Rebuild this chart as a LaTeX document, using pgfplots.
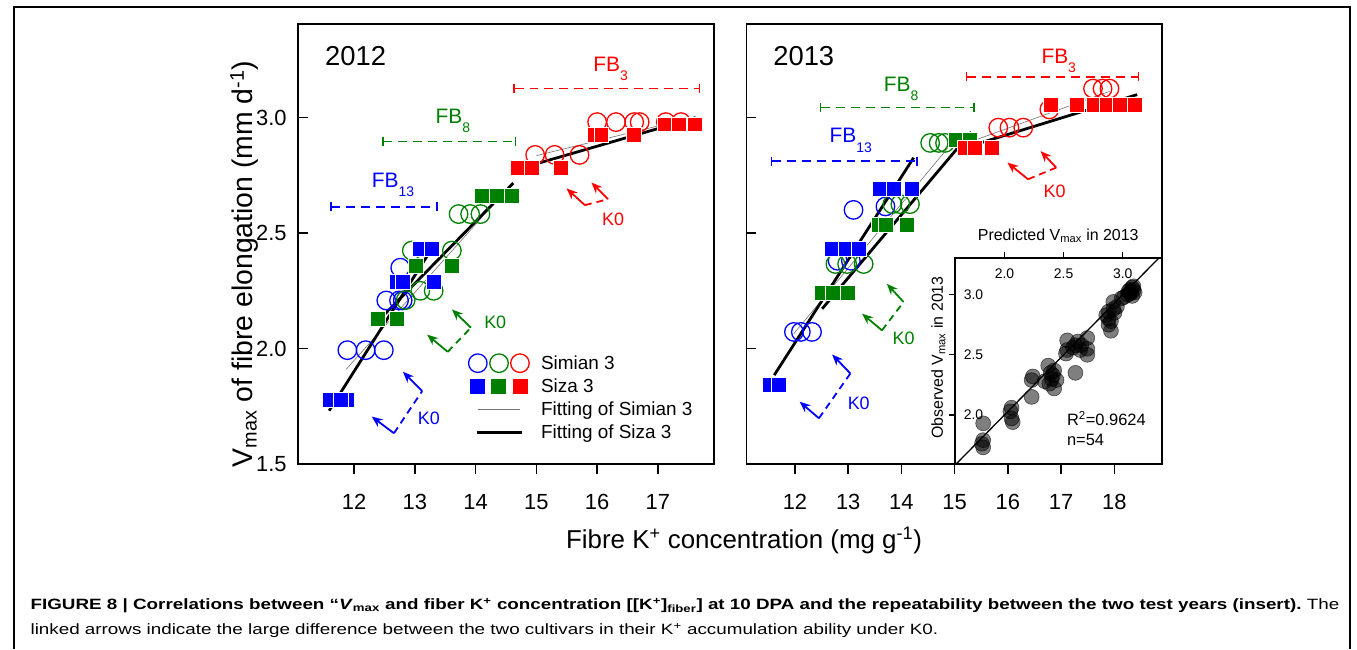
\documentclass[border=0pt]{standalone}
\usepackage{fontspec}
\setmainfont{Liberation Sans}
\usepackage{pgfplots}
\pgfplotsset{compat=1.18}
\usetikzlibrary{arrows.meta}
\definecolor{cblue}{RGB}{0,0,255}
\definecolor{cgreen}{RGB}{0,128,0}
\definecolor{cred}{RGB}{255,0,0}
\newcommand{\fs}[1]{\fontsize{#1}{#1}\selectfont}
\newcommand{\sub}[1]{\raisebox{-9.5pt}{\fs{14}#1}}
\newsavebox\capA
\newsavebox\capB
\newdimen\capw
\pgfplotsset{
  panel/.style={
    scale only axis, width=417pt, height=442pt, anchor=south west,
    ymin=1.5, ymax=3.405,
    ytick={1.5,2.0,2.5,3.0},
    axis line style={line width=1.8pt},
    tick style={black, line width=1.5pt},
    xtick align=outside, ytick align=inside,
    major tick length=10pt,
    tick pos=left,
    tick label style={font=\fs{22}},
    xticklabel style={anchor=north, inner sep=0pt, yshift=-20pt},
    yticklabel style={anchor=east, inner sep=0pt, xshift=-11.5pt},
    /pgf/number format/assume math mode=true,
  },
  sim/.style={only marks, mark=o, mark size=9.3pt, line width=1.3pt, color=#1, forget plot},
  siz/.style={only marks, mark=square*, mark size=7.5pt, color=#1, forget plot, mark options={fill=#1, draw=white, line width=0.8pt}},
  fitthin/.style={color=black!55, line width=0.6pt, forget plot},
  fitthick/.style={black, line width=2.8pt, forget plot},
}
\tikzset{
  k0arr/.style={line width=1.8pt, -{Stealth[length=11pt,width=9pt]}},
  k0dash/.style={line width=1.8pt, dash pattern=on 7pt off 5pt},
  fb/.style={line width=1.5pt, dash pattern=on 9pt off 6pt, {Bar[width=9pt,line width=1.5pt]}-{Bar[width=9pt,line width=1.5pt]}},
}
\begin{document}
\sbox\capA{\fs{15}\bfseries FIGURE 8 | Correlations between “\textit{V}\textsubscript{max} and fiber K\textsuperscript{+} concentration [[K\textsuperscript{+}]\textsubscript{fiber}] at 10 DPA and the repeatability between the two test years (insert).\mdseries\ The}
\sbox\capB{\fs{15}linked arrows indicate the large difference between the two cultivars in their K\textsuperscript{+} accumulation ability under K0.}
\begin{tikzpicture}
\fill[white] (0pt,0pt) rectangle (1357pt,652pt);

% ---------------- 2012 panel ----------------
\begin{axis}[panel, at={(294pt,186pt)},
  xmin=11.083, xmax=17.917, xtick={12,13,14,15,16,17},
  yticklabels={1.5,2.0,2.5,3.0},
  legend style={draw=none, fill=none, at={(0.4082,0.2541)}, anchor=north west,
    inner sep=0pt, outer sep=0pt, row sep=1.1pt, column sep=9.5pt,
    font=\fs{19}, nodes={inner sep=0pt}},
  legend cell align=left]
\addplot[sim=cblue] coordinates {(11.89,1.993) (12.19,1.993) (12.49,1.993) (12.53,2.208) (12.74,2.208) (12.80,2.208) (12.76,2.35)};
\addplot[sim=cgreen] coordinates {(12.85,2.21) (12.95,2.424) (13.61,2.424) (13.09,2.25) (13.31,2.25) (13.72,2.582) (13.91,2.582) (14.08,2.582)};
\addplot[sim=cred] coordinates {(14.98,2.838) (15.30,2.838) (15.71,2.838) (16.00,2.98) (16.31,2.98) (16.61,2.98) (16.70,2.98) (17.13,2.98) (17.38,2.98)};
\addplot[siz=cblue] coordinates {(11.60,1.777) (11.89,1.777) (11.79,1.777) (12.71,2.287) (12.80,2.287) (13.31,2.287) (13.09,2.431) (13.28,2.431)};
\addplot[siz=cgreen] coordinates {(12.39,2.129) (12.70,2.129) (13.01,2.359) (13.61,2.359) (14.10,2.66) (14.35,2.66) (14.59,2.66)};
\addplot[siz=cred] coordinates {(14.69,2.78) (14.92,2.78) (15.40,2.78) (15.97,2.924) (16.07,2.924) (16.60,2.924) (17.11,2.97) (17.35,2.97) (17.61,2.97)};
\addplot[fitthin] coordinates {(11.87,1.91) (14.45,2.67)};
\addplot[fitthin] coordinates {(15.00,2.835) (17.62,3.003)};
\addplot[fitthick] coordinates {(11.59,1.731) (13.31,2.445)};
\addplot[fitthick] coordinates {(12.39,2.118) (14.62,2.716)};
\addplot[fitthick] coordinates {(14.69,2.776) (17.62,2.999)};
\addlegendimage{legend image code/.code={
  \path[draw=none, fill=none] (0pt,-11pt) rectangle (64pt,11pt);
  \draw[cblue, line width=1.3pt, fill=none] (10pt,0pt) circle[radius=9.3pt];
  \draw[cgreen, line width=1.3pt, fill=none] (31.3pt,0pt) circle[radius=9.3pt];
  \draw[cred, line width=1.3pt, fill=none] (52.3pt,0pt) circle[radius=9.3pt];}}
\addlegendentry{Simian 3}
\addlegendimage{legend image code/.code={
  \path[draw=none, fill=none] (0pt,-11pt) rectangle (64pt,11pt);
  \fill[cblue, draw=none] (2.1pt,-7.5pt) rectangle (17.1pt,7.5pt);
  \fill[cgreen, draw=none] (23.5pt,-7.5pt) rectangle (38.5pt,7.5pt);
  \fill[cred, draw=none] (45.1pt,-7.5pt) rectangle (60.1pt,7.5pt);}}
\addlegendentry{Siza 3}
\addlegendimage{legend image code/.code={
  \path[draw=none, fill=none] (0pt,-11pt) rectangle (64pt,11pt);
  \draw[black!55, line width=0.6pt] (10pt,0pt) -- (52.3pt,0pt);}}
\addlegendentry{Fitting of Simian 3}
\addlegendimage{legend image code/.code={
  \path[draw=none, fill=none] (0pt,-11pt) rectangle (64pt,11pt);
  \draw[black, line width=2.8pt] (9pt,0pt) -- (54pt,0pt);}}
\addlegendentry{Fitting of Siza 3}
\end{axis}

% ---------------- 2013 panel ----------------
\begin{axis}[panel, at={(744pt,186pt)},
  xmin=11.089, xmax=18.893, xtick={12,13,14,15,16,17,18},
  yticklabels={}]
\addplot[sim=cblue] coordinates {(11.98,2.072) (12.11,2.072) (12.32,2.072) (12.80,2.38) (13.05,2.38) (13.10,2.60) (13.70,2.615)};
\addplot[sim=cgreen] coordinates {(12.76,2.366) (12.98,2.366) (13.29,2.366) (13.83,2.625) (13.98,2.625) (14.16,2.625) (14.54,2.89) (14.70,2.89) (14.82,2.89)};
\addplot[sim=cred] coordinates {(15.82,2.956) (16.03,2.956) (16.29,2.956) (16.78,3.035) (17.60,3.125) (17.78,3.125) (17.91,3.125)};
\addplot[siz=cblue] coordinates {(11.53,1.842) (11.70,1.842) (12.70,2.431) (12.95,2.431) (13.20,2.431) (13.60,2.69) (13.85,2.69) (14.20,2.69)};
\addplot[siz=cgreen] coordinates {(12.50,2.24) (12.72,2.24) (13.00,2.24) (13.58,2.535) (13.70,2.535) (14.10,2.535) (15.02,2.905) (15.29,2.905)};
\addplot[siz=cred] coordinates {(15.19,2.869) (15.38,2.869) (15.70,2.869) (16.80,3.056) (17.30,3.056) (17.61,3.056) (17.86,3.056) (18.11,3.056) (18.39,3.056)};
\addplot[fitthin] coordinates {(11.98,2.065) (14.90,2.876)};
\addplot[fitthin] coordinates {(15.07,2.876) (17.91,3.113)};
\addplot[fitthick] coordinates {(11.61,1.885) (14.23,2.826)};
\addplot[fitthick] coordinates {(12.51,2.172) (15.31,2.937)};
\addplot[fitthick] coordinates {(15.19,2.869) (18.43,3.099)};
\end{axis}

% ---------------- inset ----------------
\begin{axis}[at={(953pt,186pt)}, anchor=south west, scale only axis, width=208pt, height=207pt,
  xmin=1.579, xmax=3.33, ymin=1.591, ymax=3.306,
  axis background/.style={fill=white},
  axis line style={line width=1.8pt},
  tick style={black, line width=1.3pt},
  tick align=outside, major tick length=6pt,
  xtick pos=right, xticklabel pos=right, ytick pos=left,
  xtick={2.0,2.5,3.0}, ytick={2.0,2.5,3.0},
  xticklabels={2.0,2.5,3.0}, yticklabels={2.0,2.5,3.0},
  tick label style={font=\fs{14}},
  xticklabel style={anchor=north, inner sep=0pt, yshift=-17pt},
  yticklabel style={anchor=west, inner sep=0pt, xshift=15pt}]
\addplot[only marks, mark=*, mark size=7.5pt, mark options={fill=black, fill opacity=0.5, draw=black, draw opacity=0.6, line width=0.6pt}] coordinates {
(1.82,1.93) (1.82,1.79) (1.82,1.73) (1.81,1.76) (2.06,2.06) (2.06,1.97) (2.07,1.94) (2.05,2.03)
(2.24,2.32) (2.23,2.29) (2.23,2.15) (2.37,2.41) (2.38,2.26) (2.42,2.37) (2.41,2.33) (2.44,2.29)
(2.42,2.22) (2.34,2.28) (2.39,2.35) (2.40,2.30) (2.53,2.62) (2.53,2.54) (2.52,2.51) (2.60,2.58)
(2.62,2.61) (2.60,2.35) (2.70,2.64) (2.70,2.55) (2.70,2.50) (2.64,2.54) (2.65,2.58) (2.58,2.56)
(2.88,2.86) (2.88,2.80) (2.88,2.75) (2.90,2.70) (2.92,2.88) (2.92,2.94) (2.95,2.90) (2.86,2.83)
(2.90,2.78) (2.93,2.85) (3.01,2.98) (3.06,3.04) (3.08,3.06) (3.06,3.01) (3.09,3.04) (3.08,2.99)
(3.07,3.02) (3.10,3.02) (3.05,3.03) (3.09,3.07) (2.99,2.97) (3.04,3.00)};
\addplot[black, line width=1.3pt] coordinates {(1.5,1.5) (3.4,3.4)};
\end{axis}

% ---------------- annotations (pixel coordinates, y down) ----------------
\begin{scope}[x=1pt, y=1pt, shift={(0pt,652pt)}, yscale=-1]
\draw[line width=2pt] (8.3,652) -- (8.3,6.7) -- (1349.7,6.7) -- (1349.7,652);
\node[anchor=base west, inner sep=0, font=\fs{27.5}] at (320.7,66) {2012};
\node[anchor=base west, inner sep=0, font=\fs{27.5}] at (770.7,66) {2013};
% FB bars 2012
\draw[fb, cred] (510,89) -- (697.3,89);
\draw[fb, cgreen] (378.3,142.3) -- (512.7,142.3);
\draw[fb, cblue] (326,207.7) -- (434,207.7);
\node[anchor=base west, inner sep=0, text=cred, font=\fs{21}] at (590,71.7) {FB\sub{3}};
\node[anchor=base west, inner sep=0, text=cgreen, font=\fs{21}] at (431.7,124) {FB\sub{8}};
\node[anchor=base west, inner sep=0, text=cblue, font=\fs{21}] at (367.7,188.3) {FB\sub{13}};
% FB bars 2013
\draw[fb, cred] (964,77.3) -- (1138.3,77.3);
\draw[fb, cgreen] (817.7,107.7) -- (973.3,107.7);
\draw[fb, cblue] (768.3,161.7) -- (916,161.7);
\node[anchor=base west, inner sep=0, text=cred, font=\fs{21}] at (1040,63.3) {FB\sub{3}};
\node[anchor=base west, inner sep=0, text=cgreen, font=\fs{21}] at (881.7,91.7) {FB\sub{8}};
\node[anchor=base west, inner sep=0, text=cblue, font=\fs{21}] at (827.3,143.3) {FB\sub{13}};
% K0 arrows 2012
\draw[k0arr, cred] (581.7,206) -- (563.3,189.3);
\draw[k0dash, cred] (581.7,206) -- (605,200);
\draw[k0arr, cred] (605,200) -- (588.3,183.3);
\node[text=cred, font=\fs{18}] at (610,220) {K0};
\draw[k0arr, cgreen] (444,353.3) -- (423.3,336);
\draw[k0dash, cgreen] (444,353.3) -- (467.3,329);
\draw[k0arr, cgreen] (467.3,329) -- (448.3,310.7);
\node[text=cgreen, font=\fs{18}] at (491.7,324) {K0};
\draw[k0arr, cblue] (390,435) -- (367.7,418.3);
\draw[k0dash, cblue] (390,435) -- (418.3,392.7);
\draw[k0arr, cblue] (418.3,392.7) -- (399,373.3);
\node[text=cblue, font=\fs{18}] at (425,420) {K0};
% K0 arrows 2013
\draw[k0arr, cred] (1026.7,180) -- (1006,163.3);
\draw[k0dash, cred] (1026.7,180) -- (1055,168.3);
\draw[k0arr, cred] (1055,168.3) -- (1039.3,151.7);
\node[text=cred, font=\fs{18}] at (1053.3,191.7) {K0};
\draw[k0arr, cgreen] (880,331.7) -- (860,315);
\draw[k0dash, cgreen] (880,331.7) -- (901.7,303.3);
\draw[k0arr, cgreen] (901.7,303.3) -- (885,285);
\node[text=cgreen, font=\fs{18}] at (901.7,340) {K0};
\draw[k0arr, cblue] (816.7,420) -- (797.3,403.3);
\draw[k0dash, cblue] (816.7,420) -- (848.3,375);
\draw[k0arr, cblue] (848.3,375) -- (830,356);
\node[text=cblue, font=\fs{18}] at (856.7,405) {K0};
% axis titles
\node[rotate=90, font=\fs{28.5}] at (240,265) {V\textsubscript{max} of fibre elongation (mm d\textsuperscript{-1})};
\node[font=\fs{26}] at (741.5,543) {Fibre K\textsuperscript{+} concentration (mg g\textsuperscript{-1})};
% inset titles
\node[font=\fs{16}] at (1057,236.7) {Predicted V\textsubscript{max} in 2013};
\node[rotate=90, font=\fs{16}] at (936.7,359) {Observed V\textsubscript{max} in 2013};
\node[anchor=base west, inner sep=0, font=\fs{16.5}] at (1065.7,427.3) {R\textsuperscript{2}=0.9624};
\node[anchor=base west, inner sep=0, font=\fs{16.5}] at (1065.7,447.3) {n=54};
% caption
\capw=\wd\capA
\pgfmathsetmacro\capscale{1314/\capw}
\node[anchor=base west, inner sep=0] at (25,612) {\scalebox{\capscale}[1]{\usebox\capA}};
\node[anchor=base west, inner sep=0] at (25,637) {\scalebox{\capscale}[1]{\usebox\capB}};
\end{scope}
\pgfresetboundingbox
\path[use as bounding box] (0pt,0pt) rectangle (1357pt,652pt);
\end{tikzpicture}
\end{document}
